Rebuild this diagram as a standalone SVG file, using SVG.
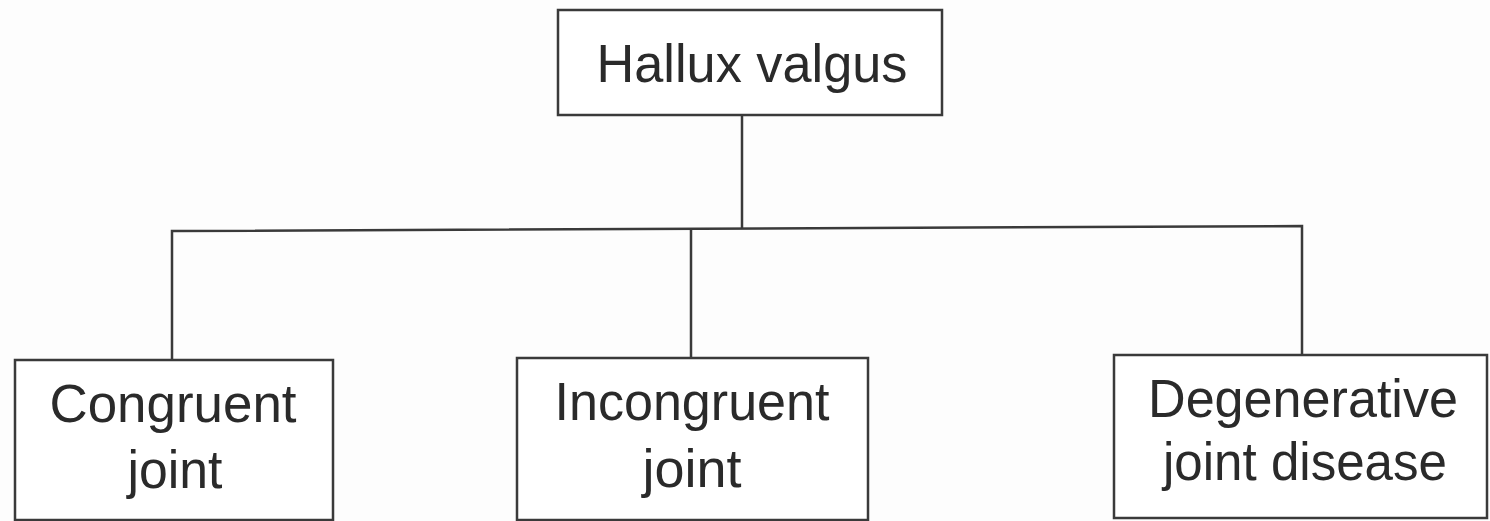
<svg xmlns="http://www.w3.org/2000/svg" width="1490" height="521" viewBox="0 0 1490 521">
<style>
.box{fill:#fff;stroke:#3a3a3a;stroke-width:2.5}
.conn{fill:none;stroke:#3a3a3a;stroke-width:2.5}
text{font-family:"Liberation Sans",Arial,sans-serif;font-size:53px;fill:#2a2a2a;text-anchor:middle}
</style>
<rect width="1490" height="521" fill="#fdfdfd"/>
<g id="connectors">
<line class="conn" x1="742" y1="115" x2="742" y2="229"/>
<polyline class="conn" points="172,359 172,231 1302,226 1302,355"/>
<line class="conn" x1="691" y1="229" x2="691" y2="358"/>
</g>
<g id="hallux-valgus">
<rect class="box" x="558" y="10" width="384" height="105"/>
<text x="752" y="82" textLength="311" lengthAdjust="spacingAndGlyphs">Hallux valgus</text>
</g>
<g id="congruent">
<rect class="box" x="15" y="360" width="318" height="160"/>
<text x="173" y="422" textLength="247" lengthAdjust="spacingAndGlyphs">Congruent</text>
<text x="175" y="488" textLength="95" lengthAdjust="spacingAndGlyphs">joint</text>
</g>
<g id="incongruent">
<rect class="box" x="517" y="358" width="351" height="162"/>
<text x="692" y="420" textLength="275" lengthAdjust="spacingAndGlyphs">Incongruent</text>
<text x="692" y="487" textLength="99" lengthAdjust="spacingAndGlyphs">joint</text>
</g>
<g id="degenerative">
<rect class="box" x="1114" y="355" width="373" height="163"/>
<text x="1303" y="417" textLength="310" lengthAdjust="spacingAndGlyphs">Degenerative</text>
<text x="1305" y="480" textLength="284" lengthAdjust="spacingAndGlyphs">joint disease</text>
</g>
</svg>
